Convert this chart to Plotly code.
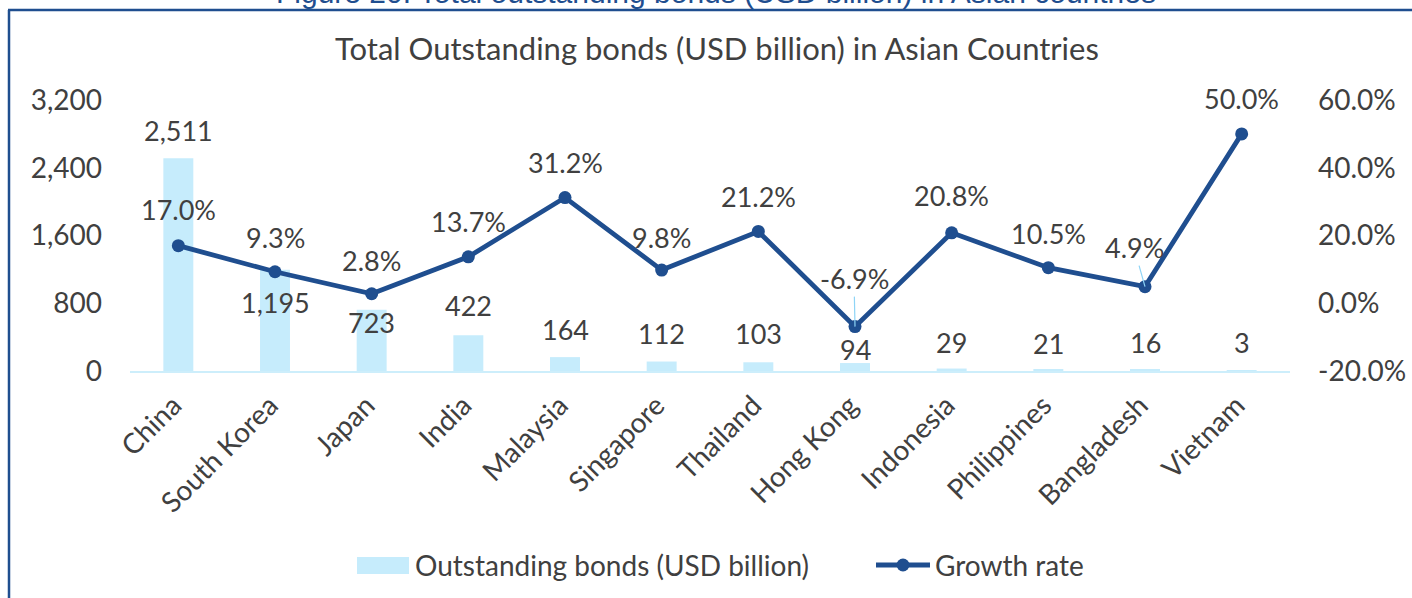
import plotly.graph_objects as go

# Chart data
countries = ["China", "South Korea", "Japan", "India", "Malaysia", "Singapore",
             "Thailand", "Hong Kong", "Indonesia", "Philippines", "Bangladesh", "Vietnam"]
bonds_usd_bn = [2511, 1195, 723, 422, 164, 112, 103, 94, 29, 21, 16, 3]
growth_pct = [17.0, 9.3, 2.8, 13.7, 31.2, 9.8, 21.2, -6.9, 20.8, 10.5, 4.9, 50.0]

left_ticks = [0, 800, 1600, 2400, 3200]
right_ticks = [-20, 0, 20, 40, 60]

# Styling
TEXT = "#404040"
BAR = "#C6ECFC"
LINE = "#1F4E8F"
LEADER = "#8ED4F6"
FONT = "Lato"
FS = 28
FS_LABEL = 27

# Label offsets (pixels) for the data labels
bar_label_shift = [28, -33, -13, 30, 28, 28, 29, 14, 26, 26, 27, 28]
line_label_dx = [0, 0, 0, 0, 0, 0, 0, -1, 0, 0, -11, 0]
line_label_dy = [36, 34, 33, 35, 35, 33, 35, 48, 37, 34, 39, 35]
line_leader = [False] * 7 + [True, False, False, True, False]

fig = go.Figure()
fig.add_trace(go.Bar(
    x=countries, y=bonds_usd_bn, name="Outstanding bonds (USD billion)",
    marker=dict(color=BAR, line=dict(width=0)), yaxis="y", showlegend=False,
))
fig.add_trace(go.Scatter(
    x=countries, y=growth_pct, name="Growth rate", mode="lines+markers",
    line=dict(color=LINE, width=4.8), marker=dict(color=LINE, size=13),
    yaxis="y2", showlegend=False,
))

annotations = []
for c, v, s in zip(countries, bonds_usd_bn, bar_label_shift):
    annotations.append(dict(
        x=c, y=v, xref="x", yref="y", text=f"{v:,}", showarrow=False,
        yshift=s, font=dict(family=FONT, size=FS_LABEL, color=TEXT),
    ))
for c, v, dx, dy, lead in zip(countries, growth_pct, line_label_dx, line_label_dy, line_leader):
    annotations.append(dict(
        x=c, y=v, xref="x", yref="y2", text=f"{v:.1f}%",
        showarrow=True, ax=dx, ay=-dy, axref="pixel", ayref="pixel",
        arrowhead=0, arrowwidth=1.2, standoff=0, startstandoff=0,
        arrowcolor=LEADER if lead else "rgba(0,0,0,0)",
        font=dict(family=FONT, size=FS_LABEL, color=TEXT),
    ))

# Pixel -> paper helpers (plot area: x 130..1290, y 100..371)
def px(x):
    return (x - 130) / 1160.0


def py(y):
    return (371 - y) / 271.0


# Headings
annotations.append(dict(
    x=px(716), y=py(11), xref="paper", yref="paper", xanchor="center", yanchor="bottom",
    text="Figure 20: Total outstanding bonds (USD billion) in Asian countries",
    showarrow=False, font=dict(family="Liberation Sans", size=30, color=LINE),
))
annotations.append(dict(
    x=px(717), y=py(48), xref="paper", yref="paper", xanchor="center", yanchor="middle",
    text="Total Outstanding bonds (USD billion) in Asian Countries",
    showarrow=False, font=dict(family=FONT, size=31, color=TEXT),
))

# Legend entries
annotations.append(dict(
    x=px(413), y=py(565), xref="paper", yref="paper", xanchor="left", yanchor="middle",
    text="Outstanding bonds (USD billion)", showarrow=False,
    font=dict(family=FONT, size=FS, color=TEXT),
))
annotations.append(dict(
    x=px(933), y=py(565), xref="paper", yref="paper", xanchor="left", yanchor="middle",
    text="Growth rate", showarrow=False,
    font=dict(family=FONT, size=FS, color=TEXT),
))

shapes = [
    # frame
    dict(type="line", xref="paper", yref="paper", x0=px(8), x1=px(1420), y0=py(10), y1=py(10),
         line=dict(color=LINE, width=2.5)),
    dict(type="line", xref="paper", yref="paper", x0=px(9), x1=px(9), y0=py(10), y1=py(610),
         line=dict(color=LINE, width=2.5)),
    # legend symbols
    dict(type="rect", xref="paper", yref="paper", x0=px(357), x1=px(409), y0=py(557), y1=py(574),
         fillcolor=BAR, line=dict(width=0)),
    dict(type="line", xref="paper", yref="paper", x0=px(876), x1=px(930), y0=py(565), y1=py(565),
         line=dict(color=LINE, width=4.8)),
    dict(type="circle", xref="paper", yref="paper", xsizemode="pixel", ysizemode="pixel",
         xanchor=px(903), yanchor=py(565), x0=-6.5, x1=6.5, y0=-6.5, y1=6.5,
         fillcolor=LINE, line=dict(width=0)),
]

fig.update_layout(
    width=1412, height=598,
    margin=dict(l=130, r=122, t=100, b=227, pad=0, autoexpand=False),
    paper_bgcolor="white", plot_bgcolor="white",
    bargap=0.69, showlegend=False,
    font=dict(family=FONT, size=FS, color=TEXT),
    xaxis=dict(
        range=[-0.5, len(countries) - 0.5],
        showgrid=False, zeroline=False, showline=True, linecolor="#CDEEFB", linewidth=2,
        ticks="", tickangle=-45, automargin=False, ticklabelstandoff=5, ticklabelshift=-5,
        tickfont=dict(family=FONT, size=FS, color=TEXT),
    ),
    yaxis=dict(
        range=[0, 3200], tickvals=left_ticks, ticktext=[f"{v:,}" for v in left_ticks],
        showgrid=False, zeroline=False, showline=False, ticks="", ticklabelstandoff=27,
        automargin=False, tickfont=dict(family=FONT, size=FS, color=TEXT),
    ),
    yaxis2=dict(
        range=[-20, 60], tickvals=right_ticks, ticktext=[f"{v:.1f}%" for v in right_ticks],
        overlaying="y", side="right", showgrid=False, zeroline=False, showline=False,
        ticks="", ticklabelstandoff=27, automargin=False,
        tickfont=dict(family=FONT, size=FS, color=TEXT),
    ),
    annotations=annotations,
    shapes=shapes,
)

fig.write_html("out.html")
